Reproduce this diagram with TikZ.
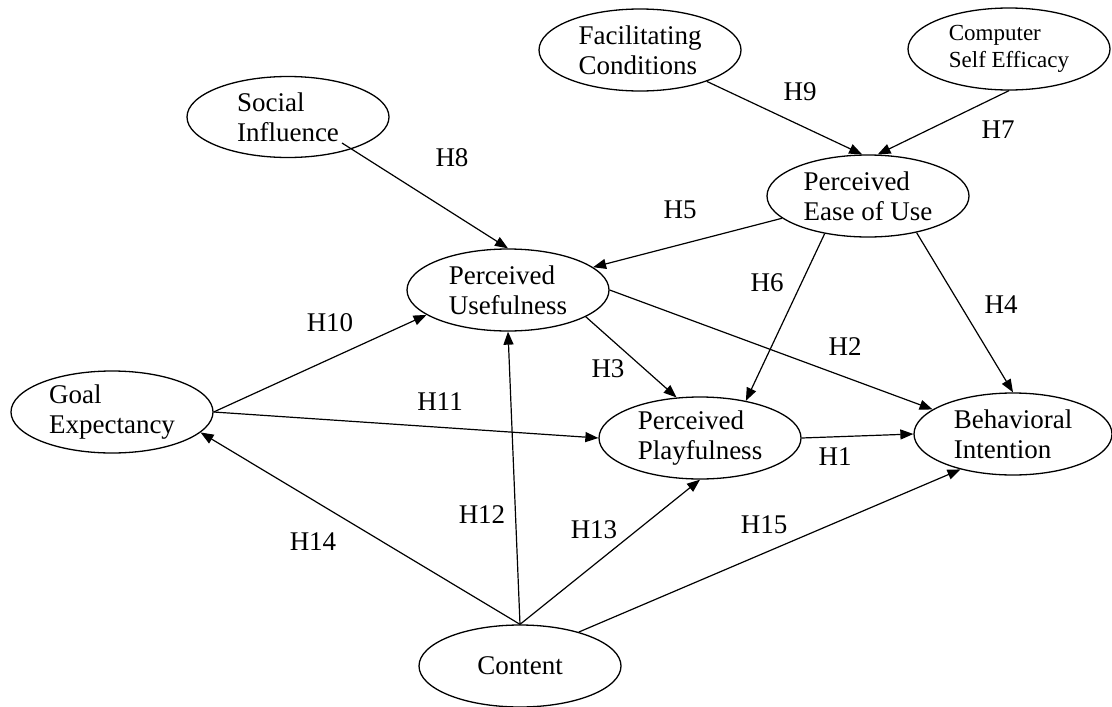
\documentclass[tikz,border=0pt]{standalone}
\usepackage{fontspec}
\setmainfont{Liberation Serif}
\usetikzlibrary{shapes.geometric,arrows.meta}
\begin{document}
\begin{tikzpicture}[x=1pt,y=-1pt,
  construct/.style={ellipse,draw,line width=1.3pt,minimum width=202pt,minimum height=82pt,inner sep=0pt,align=left,font=\fontsize{27}{30}\selectfont},
  smalltext/.style={font=\fontsize{23}{27}\selectfont},
  link/.style={line width=1.2pt,-{Triangle[length=13pt,width=10pt]}},
  hyp/.style={font=\fontsize{27}{30}\selectfont,inner sep=0pt}]
\useasboundingbox (0,0) rectangle (1112,707);

% constructs
\node[construct] (fc) at (640,50) {Facilitating\\Conditions};
\node[construct,smalltext] (cse) at (1009,49) {Computer\\Self Efficacy};
\node[construct,minimum height=81pt] (si) at (288,117) {Social\\Influence};
\node[construct] (peou) at (868,196) {Perceived\\Ease of Use};
\node[construct] (pu) at (508,290) {Perceived\\Usefulness};
\node[construct] (ge) at (112,412) {Goal\\Expectancy};
\node[construct] (pp) at (700,438) {Perceived\\Playfulness};
\node[construct,minimum width=198pt] (bi) at (1013,434) {Behavioral\\Intention};
\node[construct] (ct) at (520,666) {Content};

\coordinate (sistart) at ([xshift=54pt,yshift=-26pt]si.center);

% hypotheses
\draw[link] (fc) -- (peou.98);
\draw[link] (cse.south) -- (peou.77);
\draw[link] (sistart) -- (pu.north);
\draw[link] (peou) -- (pu.15);
\draw[link] (peou.-139) -- (pp.39);
\draw[link] (peou.-37) -- (bi.north);
\draw[link] (pu.east) -- (bi.163);
\draw[link] (pu.-19) -- (pp.120);
\draw[link] (ge.east) -- (pu.197);
\draw[link] (ge.east) -- (pp.west);
\draw[link] (pp.east) -- (bi.west);
\draw[link] (ct.north) -- (pu.south);
\draw[link] (ct.north) -- (pp.south);
\draw[link] (ct.north) -- (ge.-13);
\draw[link] (ct.30) -- (bi.-146);

% labels
\node[hyp] (l9) at (800,92) {H9};
\node[hyp] (l7) at (998,130) {H7};
\node[hyp] (l8) at (452,158) {H8};
\node[hyp] (l5) at (680,210) {H5};
\node[hyp] (l6) at (767,283) {H6};
\node[hyp] (l4) at (1001,305) {H4};
\node[hyp] (l2) at (845,347) {H2};
\node[hyp] (l3) at (608,369) {H3};
\node[hyp] (l10) at (330,323) {H10};
\node[hyp] (l11) at (440,402) {H11};
\node[hyp] (l1) at (835,457) {H1};
\node[hyp] (l12) at (482,515) {H12};
\node[hyp] (l13) at (594,530) {H13};
\node[hyp] (l14) at (313,542) {H14};
\node[hyp] (l15) at (764,525) {H15};
\end{tikzpicture}
\end{document}
